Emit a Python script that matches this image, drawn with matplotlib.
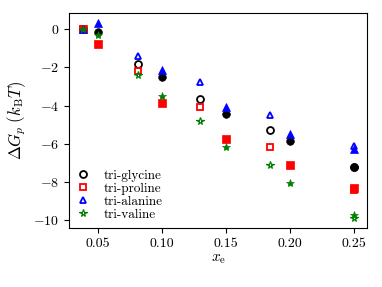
"""
Delta G_p against x_e for four tripeptides
"""
import matplotlib
matplotlib.use("Agg")
import matplotlib.pyplot as plt

plt.rcParams["font.family"] = "serif"
plt.rcParams["font.serif"] = ["cmr10"]
plt.rcParams["mathtext.fontset"] = "cm"
plt.rcParams["axes.formatter.use_mathtext"] = True
plt.rcParams["font.size"] = 10

names = ["tri-glycine", "tri-proline", "tri-alanine", "tri-valine"]
colors = ["black", "red", "blue", "green"]
markers = ["o", "s", "^", "*"]

# open markers
x_open = [0.038, 0.081, 0.1295, 0.1845, 0.25]
dg_open = [
    [0.0, -1.85, -3.65, -5.3, -7.2],    # glycine
    [0.0, -2.2, -4.09, -6.17, -8.45],   # proline
    [0.0, -1.42, -2.76, -4.51, -6.12],  # alanine
    [0.0, -2.41, -4.79, -7.14, -9.9],   # valine
]

# filled markers
x_fill = [0.038, 0.05, 0.10, 0.15, 0.20, 0.25]
dg_fill = [
    [0.0, -0.16, -2.5, -4.44, -5.84, -7.2],
    [0.0, -0.77, -3.86, -5.75, -7.1, -8.3],
    [0.0, 0.34, -2.12, -4.09, -5.47, -6.3],
    [0.0, -0.28, -3.48, -6.19, -8.06, -9.75],
]


def draw():
    fig = plt.figure(figsize=(3.82, 2.87), dpi=100)
    ax = fig.add_axes([0.181, 0.206, 0.78, 0.749])

    for name, c, m, y in zip(names, colors, markers, dg_open):
        ms = 5.5 if m == "*" else 5
        mew = 0.9 if m == "*" else 1.3
        ax.plot(x_open, y, ls="none", marker=m, ms=ms, mfc="none", mec=c,
                mew=mew, label=name)
    for c, m, y in zip(colors, markers, dg_fill):
        ms = 6 if m == "*" else 5.5
        ax.plot(x_fill, y, ls="none", marker=m, ms=ms, mfc=c, mec=c, mew=0.5)

    ax.set_xticks([0.05, 0.10, 0.15, 0.20, 0.25])
    ax.set_xticklabels(["0.05", "0.10", "0.15", "0.20", "0.25"])
    ax.set_yticks([0, -2, -4, -6, -8, -10])
    ax.set_xlabel(r"$x_{\rm e}$", fontsize=11, labelpad=2)
    ax.set_ylabel(r"$\Delta G_p\;(k_{\rm B}T)$", fontsize=12, labelpad=4)

    ax.legend(loc="lower left", frameon=False, fontsize=9.5,
              handletextpad=1.1, labelspacing=0.05, borderaxespad=0.15,
              handlelength=1.0)
    fig.savefig("out.png", dpi=100)


def main():
    draw()


if __name__ == "__main__":
    main()
